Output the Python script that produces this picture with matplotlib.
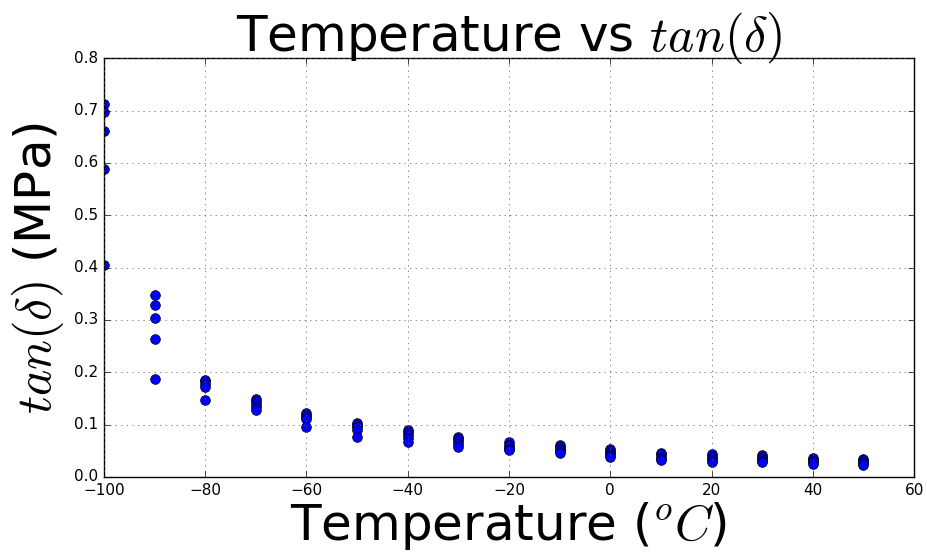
import matplotlib
matplotlib.use("Agg")
import matplotlib.pyplot as plt
import numpy as np

plt.style.use("classic")
plt.rcParams["mathtext.fontset"] = "cm"

# temperatures (deg C), five readings at each
temps = [-100, -90, -80, -70, -60, -50, -40, -30, -20, -10, 0, 10, 20, 30, 40, 50]
tan_delta = [
    [0.712, 0.697, 0.660, 0.588, 0.405],
    [0.348, 0.328, 0.304, 0.263, 0.188],
    [0.186, 0.183, 0.178, 0.172, 0.148],
    [0.149, 0.145, 0.140, 0.134, 0.128],
    [0.122, 0.119, 0.115, 0.111, 0.096],
    [0.104, 0.100, 0.095, 0.090, 0.076],
    [0.089, 0.085, 0.080, 0.074, 0.067],
    [0.077, 0.073, 0.068, 0.063, 0.057],
    [0.067, 0.062, 0.058, 0.054, 0.051],
    [0.061, 0.058, 0.053, 0.049, 0.046],
    [0.054, 0.050, 0.046, 0.042, 0.038],
    [0.046, 0.043, 0.039, 0.035, 0.032],
    [0.044, 0.041, 0.037, 0.033, 0.029],
    [0.042, 0.038, 0.035, 0.031, 0.028],
    [0.037, 0.034, 0.031, 0.028, 0.025],
    [0.035, 0.032, 0.029, 0.026, 0.023],
]

x = np.repeat(temps, [len(v) for v in tan_delta])
y = np.concatenate(tan_delta)

fig = plt.figure(figsize=(9.28, 5.54), dpi=100, facecolor="white")
ax = fig.add_axes([0.112, 0.139, 0.873, 0.756])
ax.plot(x, y, "o", color="blue", markeredgecolor="black", markersize=7, markeredgewidth=0.5)

ax.set_xlim(-100, 60)
ax.set_ylim(0, 0.8)
ax.grid(True, color="0.35")
ax.tick_params(labelsize=11)

ax.set_title(r"Temperature vs $tan(\delta)$", fontsize=36)
ax.set_xlabel(r"Temperature ($^oC$)", fontsize=36, labelpad=2)
ax.set_ylabel(r"$tan(\delta)$ (MPa)", fontsize=36, labelpad=6)

fig.savefig("out.png", dpi=100, facecolor="white")
